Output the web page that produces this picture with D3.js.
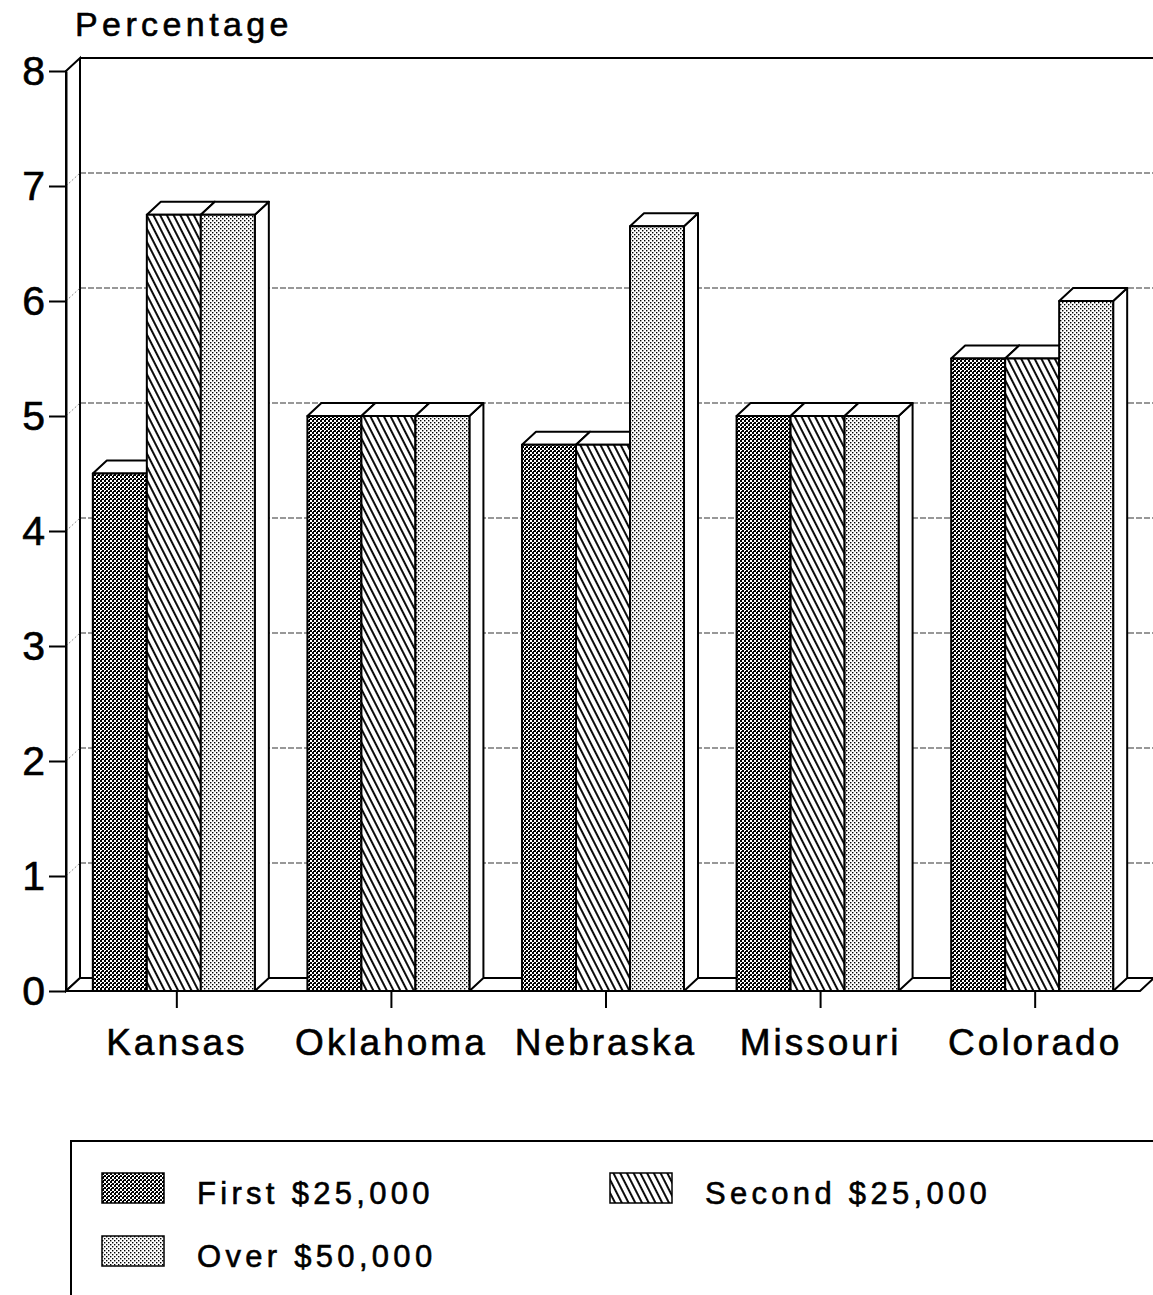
<!DOCTYPE html>
<html>
<head>
<meta charset="utf-8">
<script src="https://cdn.jsdelivr.net/npm/d3@7"></script>
<style>
  body { margin: 0; background: #fff; }
  text { font-family: "Liberation Sans", Arial, sans-serif; fill: #000; stroke: #000; stroke-width: 0.6px; }
</style>
</head>
<body>
<div id="chart"></div>
<script>
// data
var states = ["Kansas", "Oklahoma", "Nebraska", "Missouri", "Colorado"];
var seriesNames = ["First $25,000", "Second $25,000", "Over $50,000"];
var first = [4.5, 5, 4.75, 5, 5.5];
var second = [6.75, 5, 4.75, 5, 5.5];
var over = [6.75, 5, 6.65, 5, 6.0];
var yTicks = [0, 1, 2, 3, 4, 5, 6, 7, 8];

var seriesValues = [first, second, over];
var patterns = ["pat-first", "pat-second", "pat-over"];

var W = 1153, H = 1295;
var dx = 14, dy = 13; // depth of the 3D effect

var svg = d3.select("#chart").append("svg")
    .attr("width", W)
    .attr("height", H);

// fill patterns
var defs = svg.append("defs");
var p1 = defs.append("pattern").attr("id", "pat-first")
    .attr("patternUnits", "userSpaceOnUse").attr("width", 4).attr("height", 4);
p1.append("rect").attr("width", 4).attr("height", 4).attr("fill", "#fff");
p1.append("rect").attr("width", 2).attr("height", 2).attr("fill", "#000");
p1.append("rect").attr("x", 2).attr("y", 2).attr("width", 2).attr("height", 2).attr("fill", "#000");
p1.append("rect").attr("x", 1).attr("y", 3).attr("width", 1).attr("height", 1).attr("fill", "#000");

var p2 = defs.append("pattern").attr("id", "pat-second")
    .attr("patternUnits", "userSpaceOnUse").attr("width", 6).attr("height", 6)
    .attr("patternTransform", "rotate(-27)");
p2.append("rect").attr("width", 6).attr("height", 6).attr("fill", "#fff");
p2.append("line").attr("x1", 3).attr("y1", 0).attr("x2", 3).attr("y2", 6)
    .attr("stroke", "#000").attr("stroke-width", 1.9);

var p3 = defs.append("pattern").attr("id", "pat-over")
    .attr("patternUnits", "userSpaceOnUse").attr("width", 4).attr("height", 4);
p3.append("rect").attr("width", 4).attr("height", 4).attr("fill", "#fff");
p3.append("rect").attr("width", 1.4).attr("height", 1.4).attr("fill", "#000");
p3.append("rect").attr("x", 2).attr("y", 2).attr("width", 1.4).attr("height", 1.4).attr("fill", "#000");

// scales
var x0 = d3.scaleBand()
    .domain(states)
    .range([66, 1140])
    .paddingInner(0.245)
    .paddingOuter(0.125);

var x1 = d3.scaleBand()
    .domain(seriesNames)
    .range([0, x0.bandwidth()]);

var y = d3.scaleLinear()
    .domain([0, 8])
    .range([991, 71]);

var left = x0.range()[0], right = x0.range()[1];

// back wall
svg.append("rect")
    .attr("x", left + dx).attr("y", y(8) - dy)
    .attr("width", W - left).attr("height", y(0) - y(8))
    .attr("fill", "#fff");
svg.append("line")
    .attr("x1", left + dx).attr("x2", W + 10)
    .attr("y1", y(8) - dy).attr("y2", y(8) - dy)
    .attr("stroke", "#000").attr("stroke-width", 2);

// grid lines on the back wall
svg.append("g").selectAll("line")
    .data(yTicks.filter(function(d) { return d > 0 && d < 8; }))
    .enter().append("line")
    .attr("x1", left + dx).attr("x2", W + 10)
    .attr("y1", function(d) { return y(d) - dy; })
    .attr("y2", function(d) { return y(d) - dy; })
    .attr("stroke", "#333").attr("stroke-width", 1.2)
    .attr("stroke-dasharray", "6,2");

// left wall
svg.append("path")
    .attr("d", "M" + left + "," + y(8) + "L" + (left + dx) + "," + (y(8) - dy) +
               "L" + (left + dx) + "," + (y(0) - dy) + "L" + left + "," + y(0) + "Z")
    .attr("fill", "#fff").attr("stroke", "#000").attr("stroke-width", 2);
svg.append("g").selectAll("line")
    .data(yTicks.filter(function(d) { return d > 0 && d < 8; }))
    .enter().append("line")
    .attr("x1", left).attr("x2", left + dx)
    .attr("y1", function(d) { return y(d); })
    .attr("y2", function(d) { return y(d) - dy; })
    .attr("stroke", "#888").attr("stroke-width", 1)
    .attr("stroke-dasharray", "2,2");

// floor
svg.append("path")
    .attr("d", "M" + left + "," + y(0) + "L" + (left + dx) + "," + (y(0) - dy) +
               "L" + (right + dx) + "," + (y(0) - dy) + "L" + right + "," + y(0) + "Z")
    .attr("fill", "#fff").attr("stroke", "#000").attr("stroke-width", 2);

// bars, drawn left to right so that faces overlap correctly
var bars = [];
states.forEach(function(s, i) {
  seriesNames.forEach(function(n, j) {
    bars.push({state: s, series: n, value: seriesValues[j][i], pattern: patterns[j]});
  });
});

var g = svg.append("g").selectAll("g")
    .data(bars)
    .enter().append("g")
    .attr("stroke", "#000").attr("stroke-width", 2).attr("stroke-linejoin", "round");

g.each(function(d) {
  var el = d3.select(this);
  var bx = x0(d.state) + x1(d.series);
  var bw = x1.bandwidth();
  var ty = y(d.value), by = y(0);
  // side face
  el.append("path")
    .attr("d", "M" + (bx + bw) + "," + ty + "L" + (bx + bw + dx) + "," + (ty - dy) +
               "L" + (bx + bw + dx) + "," + (by - dy) + "L" + (bx + bw) + "," + by + "Z")
    .attr("fill", "#fff");
  // top face
  el.append("path")
    .attr("d", "M" + bx + "," + ty + "L" + (bx + dx) + "," + (ty - dy) +
               "L" + (bx + bw + dx) + "," + (ty - dy) + "L" + (bx + bw) + "," + ty + "Z")
    .attr("fill", "#fff");
  // front face
  el.append("rect")
    .attr("x", bx).attr("y", ty)
    .attr("width", bw).attr("height", by - ty)
    .attr("fill", "url(#" + d.pattern + ")");
});

// y axis
var yAxis = svg.append("g")
    .attr("transform", "translate(" + left + ",0)")
    .call(d3.axisLeft(y).tickValues(yTicks).tickFormat(d3.format("d"))
      .tickSize(17).tickSizeOuter(0).tickPadding(4));
yAxis.selectAll("path, line").attr("stroke", "#000").attr("stroke-width", 2);
yAxis.selectAll("text")
    .style("font-family", "'Liberation Sans', Arial, sans-serif")
    .style("font-size", "41px").attr("fill", "#000");

// x axis
var xAxis = svg.append("g")
    .attr("transform", "translate(3," + y(0) + ")")
    .call(d3.axisBottom(x0).tickSize(17).tickSizeOuter(0).tickPadding(21));
xAxis.select(".domain").attr("d", "M" + (left - 3) + ",0H" + (right - 3));
xAxis.selectAll("path, line").attr("stroke", "#000").attr("stroke-width", 2);
xAxis.selectAll("text")
    .style("font-family", "'Liberation Sans', Arial, sans-serif")
    .style("font-size", "37px").style("letter-spacing", "3px").attr("fill", "#000");

// y axis title
svg.append("text")
    .attr("x", 75).attr("y", 36)
    .style("font-size", "34px").style("letter-spacing", "4.4px")
    .text("Percentage");

// legend
svg.append("path")
    .attr("d", "M71," + (H + 10) + "V1141H" + (W + 10))
    .attr("fill", "none").attr("stroke", "#000").attr("stroke-width", 2);

var legendPos = [
  {x: 102, y: 1173},
  {x: 610, y: 1173},
  {x: 102, y: 1236}
];
var legend = svg.append("g").selectAll("g")
    .data(seriesNames)
    .enter().append("g")
    .attr("transform", function(d, i) { return "translate(" + legendPos[i].x + "," + legendPos[i].y + ")"; });
legend.append("rect")
    .attr("width", 62).attr("height", 30)
    .attr("fill", function(d, i) { return "url(#" + patterns[i] + ")"; })
    .attr("stroke", "#000").attr("stroke-width", 1.5);
legend.append("text")
    .attr("x", 95).attr("y", 31)
    .style("font-size", "31px").style("letter-spacing", "4.3px")
    .text(function(d) { return d; });
</script>
</body>
</html>
